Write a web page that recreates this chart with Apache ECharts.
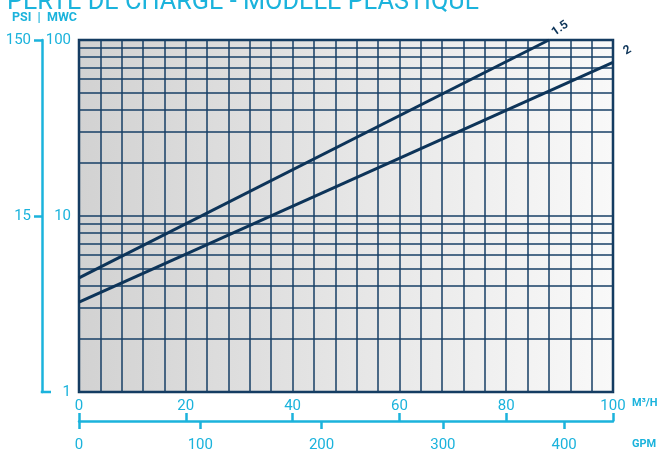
<!DOCTYPE html>
<html><head><meta charset="utf-8">
<script src="https://cdn.jsdelivr.net/npm/echarts@6/dist/echarts.min.js"></script>
<style>html,body{margin:0;padding:0;background:#fff}#c{width:659px;height:451px}</style>
</head><body><div id="c"></div>
<script>
// ---- data ----
const titleText = 'PERTE DE CHARGE - MODÈLE PLASTIQUE';
const unitsText = 'PSI  |  MWC';
const seriesNames = ['1.5', '2'];
const flow15 = [0, 88];          // m³/h
const loss15 = [4.45, 100];      // MWC
const flow2 = [0, 100];
const loss2 = [3.24, 74.7];
const m3hLabels = [0, 20, 40, 60, 80, 100];
const gpmLabels = [0, 100, 200, 300, 400];
const mwcLabels = [1, 10, 100];
const psiLabels = [15, 150];
const mwcMinorGrid = [2, 3, 4, 5, 6, 7, 8, 9, 20, 30, 40, 50, 60, 70, 80, 90];
const gpmPerM3h = 4.403;

// ---- style ----
const CYAN = '#1bb3dc', NAVY = '#0d3459', GRIDC = '#173f66';
const G = { left: 79, right: 46, top: 40, bottom: 59 };
const PSI_OFFSET = 37;

const chart = echarts.init(document.getElementById('c'));
const pairs = (xs, ys) => xs.map((x, i) => [x, ys[i]]);

chart.setOption({
  animation: false,
  textStyle: { fontFamily: 'Roboto' },
  title: [
    { text: titleText, left: 7, top: -10, padding: 0,
      textStyle: { color: CYAN, fontSize: 25.3, fontWeight: 'normal', fontFamily: 'Roboto' } },
    { text: unitsText, left: 12, top: 11, padding: 0,
      textStyle: { color: CYAN, fontSize: 12.5, fontWeight: 'bold', fontFamily: 'Roboto' } }
  ],
  grid: {
    left: G.left, right: G.right, top: G.top, bottom: G.bottom, show: true,
    outerBoundsMode: 'none', containLabel: false,
    borderColor: NAVY, borderWidth: 2.5,
    backgroundColor: new echarts.graphic.LinearGradient(0, 0, 1, 0, [
      { offset: 0, color: '#d2d2d2' }, { offset: 1, color: '#f9f9f9' }])
  },
  xAxis: [
    { type: 'value', min: 0, max: 100, interval: 20, position: 'bottom',
      axisLine: { show: false, onZero: false }, axisTick: { show: false },
      axisLabel: { customValues: m3hLabels, color: CYAN, fontSize: 15, margin: 7 },
      splitLine: { show: true, lineStyle: { color: GRIDC, width: 1.5 } },
      minorTick: { show: false, splitNumber: 5 },
      minorSplitLine: { show: true, lineStyle: { color: GRIDC, width: 1.5 } },
      name: '\nM³/H', nameLocation: 'end', nameGap: 19,
      nameTextStyle: { color: CYAN, fontSize: 11, fontWeight: 'bold', lineHeight: 22, verticalAlign: 'middle' } },
    { type: 'value', min: 0, max: 100 * gpmPerM3h, position: 'bottom', offset: 29,
      axisLine: { show: true, onZero: false, lineStyle: { color: CYAN, width: 2.5 } },
      axisTick: { show: true, length: 8, customValues: gpmLabels, lineStyle: { color: CYAN, width: 2.5 } },
      axisLabel: { customValues: gpmLabels, color: CYAN, fontSize: 15, margin: 17 },
      splitLine: { show: false },
      name: '\nGPM', nameLocation: 'end', nameGap: 19,
      nameTextStyle: { color: CYAN, fontSize: 11, fontWeight: 'bold', lineHeight: 46, verticalAlign: 'middle' } },
    { type: 'value', min: 0, max: 100, interval: 20, position: 'bottom', offset: 29,
      axisLine: { show: false, onZero: false },
      axisTick: { show: true, inside: true, length: 8, customValues: m3hLabels, lineStyle: { color: CYAN, width: 2.5 } },
      axisLabel: { show: false }, splitLine: { show: false } }
  ],
  yAxis: [
    { type: 'log', logBase: 10, min: 1, max: 100, position: 'left',
      axisLine: { show: false, onZero: false }, axisTick: { show: false },
      axisLabel: { customValues: mwcLabels, color: CYAN, fontSize: 15, margin: 8 },
      splitLine: { show: true, lineStyle: { color: GRIDC, width: 1.5 } } },
    { type: 'log', logBase: 10, min: 1.5, max: 150, position: 'left', offset: PSI_OFFSET,
      axisLine: { show: true, onZero: false, lineStyle: { color: CYAN, width: 2.5 } },
      axisTick: { show: true, length: 8, customValues: psiLabels, lineStyle: { color: CYAN, width: 2.5 } },
      axisLabel: { customValues: psiLabels, color: CYAN, fontSize: 15, margin: 11 },
      splitLine: { show: false } }
  ],
  series: [
    { name: 'grid', type: 'line', data: [], silent: true, z: 1,
      markLine: { silent: true, symbol: 'none', animation: false,
        label: { show: false },
        lineStyle: { color: GRIDC, width: 1.5, type: 'solid' },
        data: mwcMinorGrid.map(v => ({ yAxis: v })) } },
    { name: seriesNames[0], type: 'line', data: pairs(flow15, loss15), symbol: 'none', z: 5,
      lineStyle: { color: NAVY, width: 3 },
      endLabel: { show: true, formatter: seriesNames[0], color: NAVY, fontSize: 12, fontWeight: 'bold',
        rotate: 35, distance: 0, offset: [7, -3] } },
    { name: seriesNames[1], type: 'line', data: pairs(flow2, loss2), symbol: 'none', z: 5,
      lineStyle: { color: NAVY, width: 3 },
      endLabel: { show: true, formatter: seriesNames[1], color: NAVY, fontSize: 12, fontWeight: 'bold',
        rotate: 30, distance: 0, offset: [15, -3] } }
  ]
});

// bottom corner of PSI axis (pointing right)
const yBottom = chart.convertToPixel({ yAxisIndex: 1 }, 1.5);
const xPsi = G.left - PSI_OFFSET;
chart.setOption({
  graphic: [{ type: 'line', silent: true,
    shape: { x1: xPsi - 1.25, y1: yBottom, x2: xPsi + 9, y2: yBottom },
    style: { stroke: CYAN, lineWidth: 2.5 } }]
});
</script></body></html>
